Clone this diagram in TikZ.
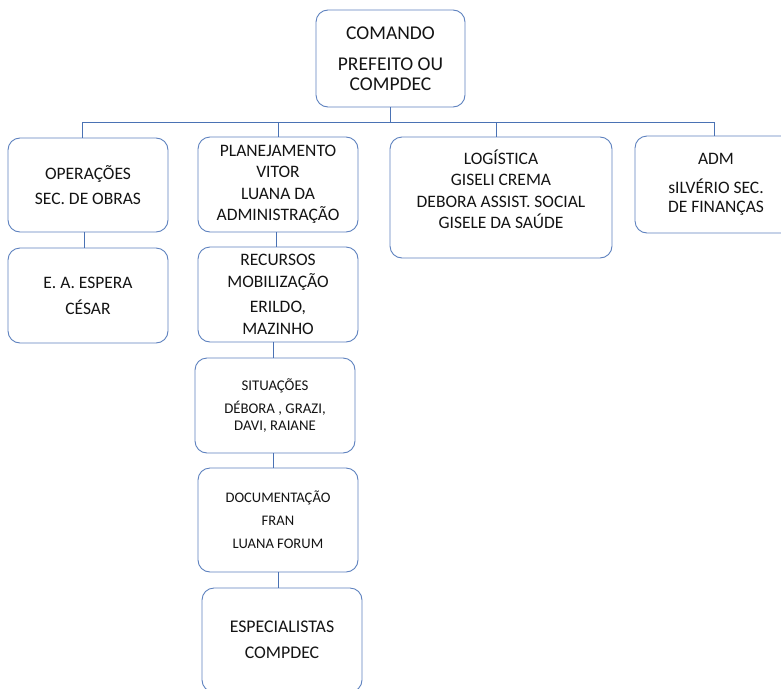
\documentclass[tikz,border=0pt]{standalone}
\usepackage{fontspec}
\setmainfont{Carlito}
\definecolor{boxblue}{HTML}{5E82BF}
\definecolor{linkblue}{HTML}{4A72B4}
\definecolor{txt}{HTML}{141414}
\tikzset{
  orgbox/.style={draw=boxblue, line width=0.9pt, rounded corners=12pt, fill=white,
    align=center, text=txt, inner sep=2pt,
    font=\fontsize{17.5}{21.5}\selectfont},
  smallbox/.style={orgbox, font=\fontsize{14.8}{17}\selectfont},
  topbox/.style={orgbox, font=\fontsize{19.5}{20}\selectfont},
  link/.style={draw=linkblue, line width=0.9pt}
}
\begin{document}
\begin{tikzpicture}[x=1pt,y=-1pt]
\useasboundingbox (0,0) rectangle (781,688);
\clip (0,0) rectangle (781,688);
\fill[white] (0,0) rectangle (781,688);
\coordinate (bus) at (0,122);

\node[topbox, minimum width=149pt, minimum height=97pt] (cmd) at (390.5,58.5)
  {COMANDO\\[11pt]PREFEITO OU\\COMPDEC};

\node[orgbox, minimum width=160pt, minimum height=94pt] (ops) at (88,185)
  {OPERAÇÕES\\[4pt]SEC. DE OBRAS};
\node[orgbox, minimum width=160pt, minimum height=95pt] (esp) at (88,295.5)
  {E. A. ESPERA\\[4.5pt]CÉSAR};

\node[orgbox, minimum width=160pt, minimum height=95pt] (plan) at (278,184.5)
  {PLANEJAMENTO\\VITOR\\LUANA DA\\ADMINISTRAÇÃO};
\node[orgbox, minimum width=160pt, minimum height=95pt] (rec) at (278,294.5)
  {RECURSOS\\MOBILIZAÇÃO\\[4pt]ERILDO,\\MAZINHO};
\node[smallbox, minimum width=160pt, minimum height=95pt] (sit) at (275,405.5)
  {SITUAÇÕES\\[6pt]DÉBORA , GRAZI,\\DAVI, RAIANE};
\node[smallbox, minimum width=160pt, minimum height=104pt, font=\fontsize{14.6}{23}\selectfont] (doc) at (278,520)
  {DOCUMENTAÇÃO\\FRAN\\LUANA FORUM};
\node[orgbox, minimum width=160pt, minimum height=104pt, font=\fontsize{17.8}{26}\selectfont] (spec) at (282,640)
  {ESPECIALISTAS\\COMPDEC};

\node[orgbox, minimum width=222pt, minimum height=121pt] (log) at (501,197.5)
  {LOGÍSTICA\\GISELI CREMA\\DEBORA ASSIST. SOCIAL\\GISELE DA SAÚDE\\[-5pt]~};
\node[orgbox, minimum width=162pt, minimum height=97pt] (adm) at (716,184.5)
  {ADM\\[7pt]sILVÉRIO SEC.\\[-2pt]DE FINANÇAS};

% connectors
\draw[link] (cmd.south) -- (cmd.south |- bus);
\draw[link] ([xshift=-6pt]ops.north) |- ([xshift=-2pt]adm.north |- bus) -- ([xshift=-2pt]adm.north);
\draw[link] (plan.north) -- (plan.north |- bus);
\draw[link] ([xshift=-5pt]log.north) -- ([xshift=-5pt]log.north |- bus);
\draw[link] ([xshift=-4pt]ops.south) -- ([xshift=-4pt]esp.north);
\draw[link] ([xshift=-2pt]plan.south) -- ([xshift=-2pt]rec.north);
\draw[link] ([xshift=-2pt]sit.north) -- ([xshift=-2pt]sit.north |- rec.south);
\draw[link] ([xshift=-2pt]sit.south) -- ([xshift=-5pt]doc.north);
\draw[link] (doc.south) -- (doc.south |- spec.north);
\end{tikzpicture}
\end{document}
